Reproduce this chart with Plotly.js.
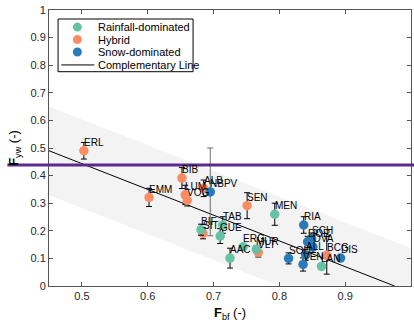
<!DOCTYPE html>
<html>
<head>
<meta charset="utf-8">
<script src="https://cdn.plot.ly/plotly-3.0.1.min.js"></script>
<style>html,body{margin:0;padding:0;background:#fff;}#chart{width:414px;height:327px;}</style>
</head>
<body>
<div id="chart"></div>
<script>
// ---- data ----
var rainNames = ["TAB", "GUE", "BIF", "AAC", "ERG", "MUR", "MEN", "LAN"];
var rainX     = [0.714, 0.710, 0.681, 0.725, 0.745, 0.765, 0.793, 0.864];
var rainY     = [0.221, 0.181, 0.204, 0.101, 0.142, 0.133, 0.260, 0.071];
var rainErr   = [0.030, 0.027, 0.020, 0.036, 0.008, 0.012, 0.040, 0.005];

var hybNames = ["ERL", "EMM", "BIB", "ALB", "LUM", "VOG", "SIT", "SEN", "VLT", "BCG"];
var hybX     = [0.503, 0.602, 0.652, 0.685, 0.657, 0.660, 0.684, 0.751, 0.768, 0.872];
var hybY     = [0.490, 0.321, 0.391, 0.354, 0.330, 0.310, 0.191, 0.291, 0.122, 0.111];
var hybErr   = [0.030, 0.033, 0.038, 0.030, 0.035, 0.020, 0.020, 0.047, 0.017, 0.068];

var snowNames = ["NBPV", "RIA", "SCH", "DOR", "OVA", "ALL", "SOU", "VEN", "DIS"];
var snowX     = [0.695, 0.837, 0.849, 0.843, 0.851, 0.840, 0.814, 0.836, 0.893];
var snowY     = [0.341, 0.221, 0.172, 0.160, 0.142, 0.113, 0.100, 0.078, 0.101];
var snowErr   = [0.159, 0.030, 0.020, 0.020, 0.020, 0.020, 0.020, 0.024, 0.005];

var compLineX = [0.45, 0.975];
var compLineY = [0.49, 0.0];
var bandX = [0.45, 1.0, 1.0, 0.80, 0.45];
var bandY = [0.65, 0.137, 0.0, 0.0, 0.33];
var thresholdY = 0.438;

var legendLabels = ["Rainfall-dominated", "Hybrid", "Snow-dominated", "Complementary Line"];
var xTicks = [0.5, 0.6, 0.7, 0.8, 0.9, 1];
var yTicks = [0, 0.1, 0.2, 0.3, 0.4, 0.5, 0.6, 0.7, 0.8, 0.9, 1];

// ---- styles ----
var cRain = "#66c2a5", cHyb = "#fc8d62", cSnow = "#2a7ab9";
var FONT = "Liberation Sans, Arial, sans-serif";

function pts(x, y, e, color, ecolor) {
  return {
    type: "scatter", mode: "markers", x: x, y: y, showlegend: false, hoverinfo: "skip",
    marker: {color: color, size: 9.5, line: {width: 0}},
    error_y: {type: "data", array: e, visible: true, color: ecolor || "#000", thickness: 1, width: 3}
  };
}

var traces = [
  {type: "scatter", mode: "lines", x: bandX, y: bandY, fill: "toself", fillcolor: "#f3f3f3",
   line: {width: 0, color: "rgba(0,0,0,0)"}, showlegend: false, hoverinfo: "skip"},
  {type: "scatter", mode: "lines", x: compLineX, y: compLineY, line: {color: "#000", width: 1},
   showlegend: false, hoverinfo: "skip"},
  pts(hybX, hybY, hybErr, cHyb),
  pts(rainX, rainY, rainErr, cRain),
  pts(snowX.slice(1), snowY.slice(1), snowErr.slice(1), cSnow),
  pts(snowX.slice(0, 1), snowY.slice(0, 1), snowErr.slice(0, 1), cSnow, "#6e6e6e")
];

var annotations = [];
function addLabels(names, x, y) {
  for (var i = 0; i < names.length; i++) {
    annotations.push({x: x[i], y: y[i] + 0.03, text: names[i], showarrow: false,
      xanchor: "left", yanchor: "middle", xshift: -1, borderpad: 0,
      font: {family: FONT, size: 10, color: "#000"}});
  }
}
addLabels(rainNames, rainX, rainY);
addLabels(hybNames, hybX, hybY);
addLabels(snowNames, snowX, snowY);

// manual legend (paper coords)
var legY = [0.938, 0.893, 0.848, 0.801];
var legCols = [cRain, cHyb, cSnow];
var shapes = [
  {type: "line", xref: "paper", yref: "y", x0: -0.115, x1: 1.02, y0: thresholdY, y1: thresholdY,
   line: {color: "#5b2a8e", width: 3}, layer: "above"},
  {type: "rect", xref: "paper", yref: "paper", x0: 0.0251, x1: 0.398, y0: 0.7764, y1: 0.9674,
   line: {color: "#000", width: 1}, fillcolor: "#fff", layer: "above"}
];
for (var k = 0; k < 3; k++) {
  shapes.push({type: "circle", xref: "paper", yref: "paper", xsizemode: "pixel", ysizemode: "pixel",
    xanchor: 0.0784, yanchor: legY[k], x0: -4.5, x1: 4.5, y0: -4.5, y1: 4.5,
    fillcolor: legCols[k], line: {width: 0}, layer: "above"});
}
shapes.push({type: "line", xref: "paper", yref: "paper", x0: 0.034, x1: 0.1254, y0: legY[3], y1: legY[3],
  line: {color: "#000", width: 1}, layer: "above"});
for (var j = 0; j < 4; j++) {
  annotations.push({xref: "paper", yref: "paper", x: 0.1328, y: legY[j], text: legendLabels[j],
    showarrow: false, xanchor: "left", yanchor: "middle", borderpad: 0,
    font: {family: FONT, size: 11, color: "#000"}});
}

var axisCommon = {
  showgrid: false, zeroline: false, showline: true, linecolor: "#555", linewidth: 1,
  mirror: "ticks", ticks: "inside", ticklen: 4, tickcolor: "#555", tickwidth: 1,
  tickfont: {family: FONT, size: 11, color: "#262626"}
};

var layout = {
  width: 414, height: 327,
  margin: {l: 48.6, r: 3.3, t: 10, b: 41},
  paper_bgcolor: "#fff", plot_bgcolor: "#fff",
  showlegend: false,
  xaxis: Object.assign({}, axisCommon, {range: [0.45, 1], tickvals: xTicks,
    title: {text: "<b>F</b><sub>bf</sub> (-)", font: {family: FONT, size: 13, color: "#000"}, standoff: 6}}),
  yaxis: Object.assign({}, axisCommon, {range: [0, 1], tickvals: yTicks,
    title: {text: "<b>F</b><sub>yw</sub> (-)", font: {family: FONT, size: 13, color: "#000"}, standoff: 8}}),
  shapes: shapes,
  annotations: annotations
};

Plotly.newPlot("chart", traces, layout, {staticPlot: true, displayModeBar: false});
</script>
</body>
</html>
